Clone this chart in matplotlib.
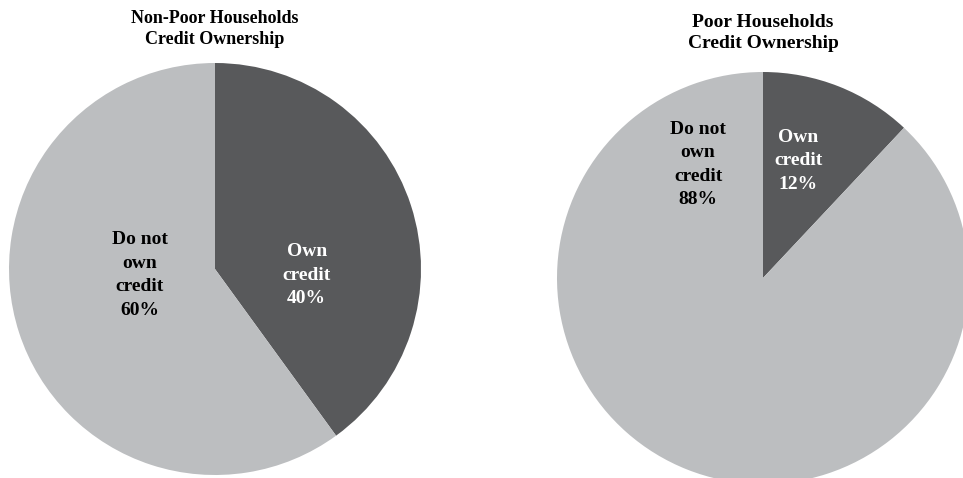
import matplotlib.pyplot as plt

# data
titles = ['Non-Poor Households\nCredit Ownership', 'Poor Households\nCredit Ownership']
labels = ['Own\ncredit', 'Do not\nown\ncredit']
nonpoor = [40, 60]
poor = [12, 88]
colors = ['#58595b', '#bcbec0']

W, H = 963, 478
fig = plt.figure(figsize=(W / 100, H / 100), dpi=100)
fig.patch.set_facecolor('white')

R = 206

def make_ax(cx, cy):
    # cx, cy pixel centre of pie (y from top)
    ax = fig.add_axes([(cx - R) / W, (H - cy - R) / H, 2 * R / W, 2 * R / H])
    ax.set_xlim(-1, 1)
    ax.set_ylim(-1, 1)
    ax.set_aspect('equal')
    ax.axis('off')
    return ax

font = dict(family='Liberation Serif', fontweight='bold')

#---- left pie ----
ax1 = make_ax(215, 269)
ax1.pie(nonpoor, colors=colors, startangle=90, counterclock=False, radius=1,
        wedgeprops=dict(linewidth=0))
ax1.set_xlim(-1, 1); ax1.set_ylim(-1, 1)
ax1.text(0.445, -0.03, '%s\n%d%%' % (labels[0], nonpoor[0]), ha='center', va='center',
         color='white', fontsize=14, linespacing=1.5, **font)
ax1.text(-0.365, -0.03, '%s\n%d%%' % (labels[1], nonpoor[1]), ha='center', va='center',
         color='black', fontsize=14, linespacing=1.5, **font)

#---- right pie ----
ax2 = make_ax(763, 278)
ax2.pie(poor, colors=colors, startangle=90, counterclock=False, radius=1,
        wedgeprops=dict(linewidth=0))
ax2.set_xlim(-1, 1); ax2.set_ylim(-1, 1)
ax2.text(0.17, 0.57, '%s\n%d%%' % (labels[0], poor[0]), ha='center', va='center',
         color='white', fontsize=14, linespacing=1.5, **font)
ax2.text(-0.315, 0.55, '%s\n%d%%' % (labels[1], poor[1]), ha='center', va='center',
         color='black', fontsize=14, linespacing=1.5, **font)

#---- titles ----
fig.text(215 / W, 1 - 29 / H, titles[0], ha='center', va='center', fontsize=13,
         linespacing=1.25, **font)
fig.text(763 / W, 1 - 33 / H, titles[1], ha='center', va='center', fontsize=14,
         linespacing=1.3, **font)

fig.savefig('out.png', dpi=100)
